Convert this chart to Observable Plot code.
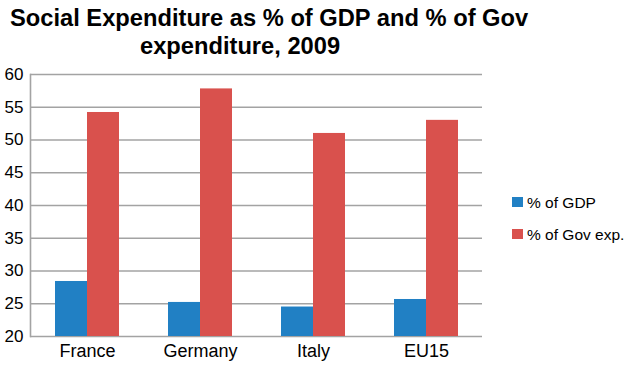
<!DOCTYPE html>
<html>
<head>
<meta charset="utf-8">
<script src="https://cdn.jsdelivr.net/npm/d3@7"></script>
<script src="https://cdn.jsdelivr.net/npm/@observablehq/plot@0.6"></script>
<style>
  html, body { margin: 0; padding: 0; background: #fff; }
  #wrap { position: relative; width: 626px; height: 365px; font-family: "Liberation Sans", Arial, sans-serif; color: #000; }
  #chart { position: absolute; left: 0; top: 0; }
  .title { position: absolute; font-weight: bold; font-size: 23.7px; line-height: 1; white-space: nowrap; }
  .leg { position: absolute; font-size: 15.5px; line-height: 1; white-space: nowrap; }
  .sw { position: absolute; width: 11px; height: 10px; }
  #chart svg { font-family: "Liberation Sans", Arial, sans-serif; }
</style>
</head>
<body>
<div id="wrap">
  <div id="chart"></div>
  <div class="title" style="left:10px; top:6.6px;">Social Expenditure as % of GDP and % of Gov</div>
  <div class="title" style="left:140px; top:35px;">expenditure, 2009</div>
  <div id="legend"></div>
</div>
<script>
// ---- data ----
const countries = ["France", "Germany", "Italy", "EU15"];
const gdpShare = [28.4, 25.2, 24.5, 25.65];
const govShare = [54.2, 57.8, 51.0, 53.0];
const seriesNames = ["% of GDP", "% of Gov exp."];
const seriesColors = ["#2180c4", "#d9514d"];
const yTicks = [20, 25, 30, 35, 40, 45, 50, 55, 60];

const yMin = yTicks[0];
const gdpRows = countries.map((c, i) => ({country: c, value: gdpShare[i], series: seriesNames[0]}));
const govRows = countries.map((c, i) => ({country: c, value: govShare[i], series: seriesNames[1]}));

const half = 32;
const chart = Plot.plot({
  width: 626,
  height: 365,
  marginTop: 74,
  marginBottom: 29,
  marginLeft: 30,
  marginRight: 144,
  x: {type: "band", domain: countries, paddingInner: 0.434, paddingOuter: 0.217, label: null, axis: null},
  y: {domain: [yTicks[0], yTicks[yTicks.length - 1]], label: null, axis: null},
  marks: [
    Plot.ruleY(yTicks, {stroke: "#a3a3a3", strokeWidth: 1.6}),
    Plot.frame({anchor: "left", stroke: "#a3a3a3", strokeWidth: 1.6}),
    Plot.barY(gdpRows, {x: "country", y1: yMin, y2: "value", fill: seriesColors[0], insetRight: half}),
    Plot.barY(govRows, {x: "country", y1: yMin, y2: "value", fill: seriesColors[1], insetLeft: half}),
    Plot.axisY(yTicks, {tickSize: 0, tickPadding: 7, fontSize: 17, fill: "#000", label: null}),
    Plot.axisX({tickSize: 0, tickPadding: 8, fontSize: 18, fill: "#000", label: null})
  ]
});
document.getElementById("chart").appendChild(chart);

// legend
const legend = document.getElementById("legend");
const legTops = [197, 229];
seriesNames.forEach((name, i) => {
  const sw = document.createElement("div");
  sw.className = "sw";
  sw.style.left = "512px";
  sw.style.top = legTops[i] + "px";
  sw.style.background = seriesColors[i];
  legend.appendChild(sw);
  const t = document.createElement("div");
  t.className = "leg";
  t.style.left = "527px";
  t.style.top = (legTops[i] - 2) + "px";
  t.textContent = name;
  legend.appendChild(t);
});
</script>
</body>
</html>
